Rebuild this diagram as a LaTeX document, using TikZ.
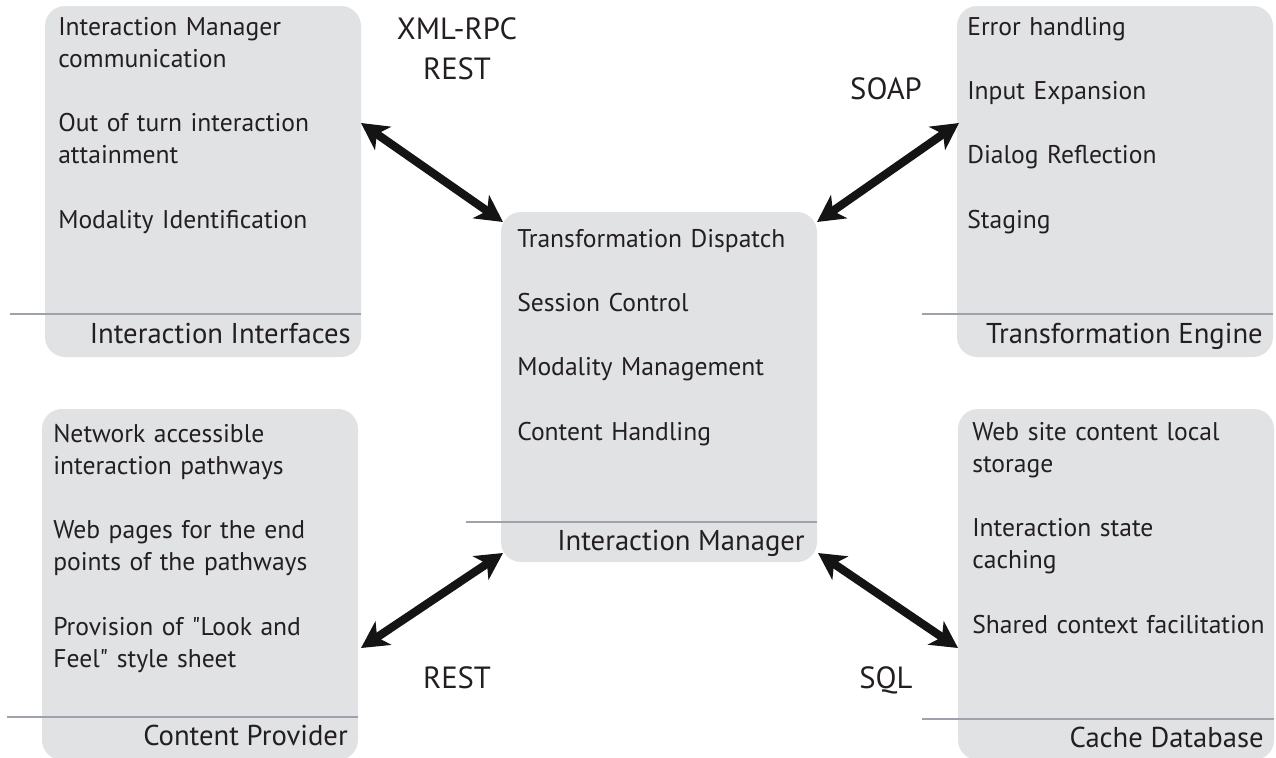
\documentclass[tikz,border=0pt]{standalone}
\usepackage{fontspec}
\setmainfont{PT Sans}[Ligatures=TeXOff]
\usetikzlibrary{calc,arrows.meta}
\definecolor{panelfill}{RGB}{225,226,228}
\definecolor{rulegray}{RGB}{158,163,171}
\definecolor{inkdark}{RGB}{35,31,32}
\tikzset{
  panel/.style={fill=panelfill, draw=none, rounded corners=15pt, inner sep=0pt, outer sep=0pt,
    minimum width=237pt, minimum height=263.25pt, anchor=north west},
  items/.style={anchor=base west, inner sep=0pt, text width=232pt, align=left, text=inkdark,
    font=\fontsize{19.2pt}{24.15pt}\selectfont},
  tag/.style={anchor=base east, inner sep=0pt, text=inkdark, font=\fontsize{21.5pt}{26pt}\selectfont},
  proto/.style={anchor=base, inner sep=0pt, align=center, text=inkdark,
    font=\fontsize{23pt}{30pt}\selectfont},
  divider/.style={draw=rulegray, line width=1.6pt},
  link/.style={draw=black!92, line width=6.2pt,
    {Stealth[length=20pt,width=21pt,inset=5.5pt]}-{Stealth[length=20pt,width=21pt,inset=5.5pt]}}
}
\newcommand{\gap}{\\[24.15pt]}
\begin{document}
\begin{tikzpicture}[x=0.75pt,y=-0.75pt]
\useasboundingbox (0,0) rectangle (1276,757);
\clip (0,0) rectangle (1276,757);

% panels
\node[panel] (ii) at (45,6) {};
\node[panel] (te) at (957,6) {};
\node[panel, minimum height=262.5pt] (im) at (501,212) {};
\node[panel] (cp) at (42,409) {};
\node[panel] (cd) at (958,409) {};

% dividers above the panel titles
\draw[divider] ($(ii.north west)+(-35,308)$) -- ($(ii.north east)+(0,308)$);
\draw[divider] ($(te.north west)+(-35,308)$) -- ($(te.north east)+(0,308)$);
\draw[divider] ($(im.north west)+(-35,310)$) -- ($(im.north east)+(0,310)$);
\draw[divider] ($(cp.north west)+(-35,308)$) -- ($(cp.north east)+(0,308)$);
\draw[divider] ($(cd.north west)+(-36,310)$) -- ($(cd.north east)+(0,310)$);

% panel titles
\node[tag] (iit) at ($(ii.north east)+(-10,337)$) {Interaction Interfaces};
\node[tag] (tet) at ($(te.north east)+(-10,337)$) {Transformation Engine};
\node[tag] (imt) at ($(im.north east)+(-12,338)$) {Interaction Manager};
\node[tag] (cpt) at ($(cp.north east)+(-10,336)$) {Content Provider};
\node[tag] (cdt) at ($(cd.north east)+(-10,338)$) {Cache Database};

% panel contents
\node[items] (iil) at ($(ii.north west)+(13,29)$)
  {Interaction Manager\\communication\gap Out of turn interaction\\attainment\gap Modality Identification};
\node[items] (tel) at ($(te.north west)+(10,29)$)
  {Error handling\gap Input Expansion\gap Dialog Reflection\gap Staging};
\node[items] (iml) at ($(im.north west)+(16,35)$)
  {Transformation Dispatch\gap Session Control\gap Modality Management\gap Content Handling};
\node[items] (cpl) at ($(cp.north west)+(11,33)$)
  {Network accessible\\interaction pathways\gap Web pages for the end\\points of the pathways\gap
   Provision of "Look and\\Feel" style sheet};
\node[items] (cdl) at ($(cd.north west)+(14,31)$)
  {Web site content local\\storage\gap Interaction state\\caching\gap Shared context facilitation};

% connectors
\draw[link] ($(ii.north east)+(0,117)$) -- ($(im.north west)+(2,10)$);
\draw[link] ($(im.north east)+(0,10)$) -- ($(te.north west)+(2,117)$);
\draw[link] ($(cp.north east)+(3,239)$) -- ($(im.south west)+(2,-9)$);
\draw[link] ($(im.south east)+(1,-9)$) -- ($(cd.north west)+(0,239)$);

% protocol labels
\node[proto] (p1) at (457,79) {XML-RPC\\REST};
\node[proto] (p2) at (886,99) {SOAP};
\node[proto] (p3) at (457,688) {REST};
\node[proto] (p4) at (886,688) {SQL};
\end{tikzpicture}
\end{document}
